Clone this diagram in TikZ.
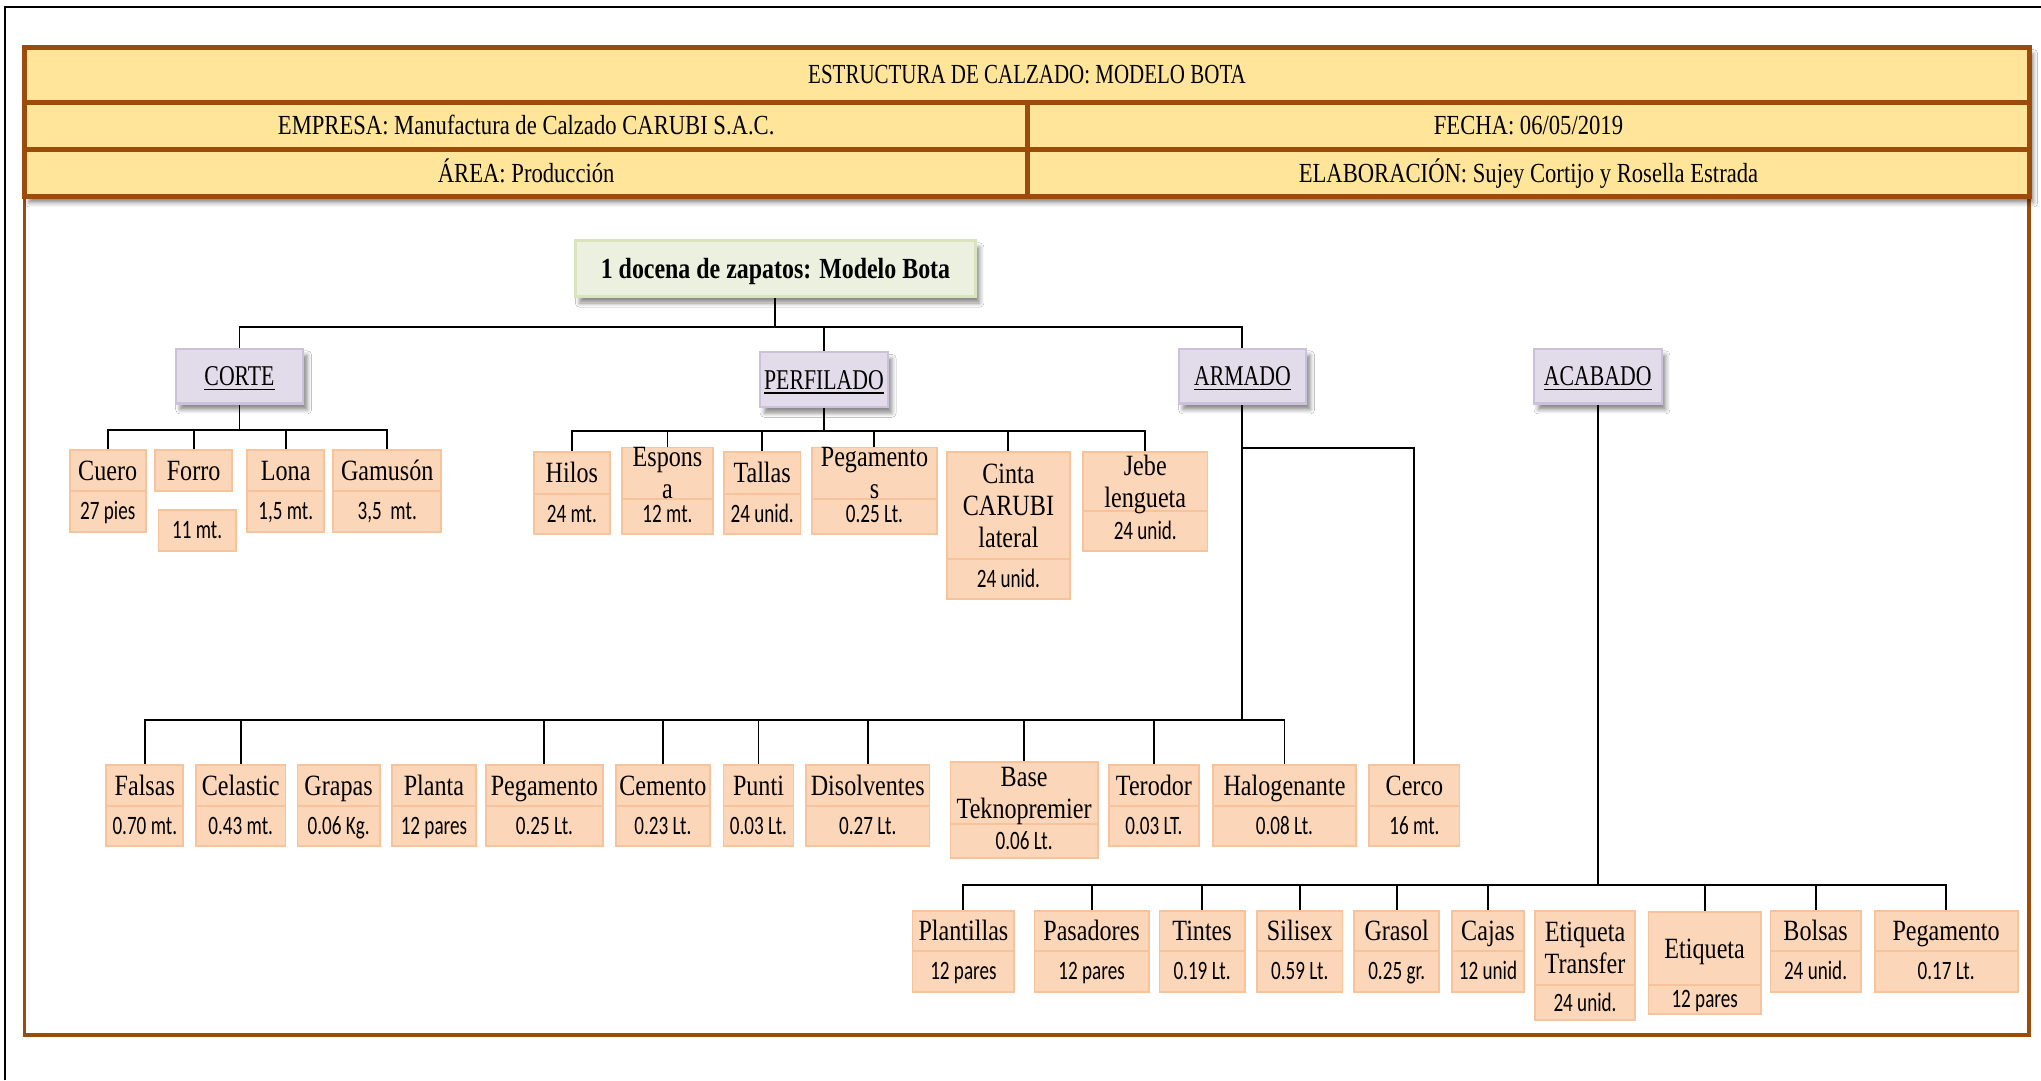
\documentclass[tikz,border=0pt]{standalone}
\usepackage{fontspec}
\setmainfont{Liberation Serif}[FakeStretch=0.82]
\newfontfamily\capsf{Liberation Serif}[FakeStretch=0.76]
\newfontfamily\numf{Carlito}[FakeStretch=0.72]
\usetikzlibrary{backgrounds,shadows.blur}

\definecolor{hdrfill}{HTML}{FFE599}
\definecolor{brown}{RGB}{155,75,10}
\definecolor{leaffill}{HTML}{FBD6B8}
\definecolor{leafline}{HTML}{F8C29A}
\definecolor{rolfill}{HTML}{E2DCEA}
\definecolor{rolline}{HTML}{CCC1DA}
\definecolor{rootfill}{HTML}{EBF1DE}
\definecolor{rootline}{HTML}{D7E4BD}

\tikzset{
  softshadow/.style={blur shadow={shadow xshift=1.6pt, shadow yshift=-2.4pt,
      shadow blur radius=1.6pt, shadow opacity=45}},
  hdrcell/.style={draw=brown, line width=1.9pt, fill=hdrfill, inner sep=0pt,
      font=\fontsize{10.6}{12}\selectfont, text height=9.2pt, text depth=2.2pt},
  leafbase/.style={draw=leafline, fill=leaffill, line width=0.7pt,
      inner sep=0pt, outer sep=0pt, align=center},
  leafone/.style={leafbase, font=\fontsize{11.3}{12.25}\selectfont,
      text height=9.7pt, text depth=2.2pt},
  leafmulti/.style={leafbase, font=\fontsize{11.3}{12.25}\selectfont, text depth=0pt},
  leafqty/.style={leafbase, font=\numf\fontsize{10.2}{12}\selectfont,
      text height=8.7pt, text depth=2.2pt},
  rolebox/.style={draw=rolline, fill=rolfill, line width=0.8pt, inner sep=0pt,
      outer sep=0pt, minimum width=49pt, minimum height=21pt,
      font=\capsf\fontsize{11}{12}\selectfont, text height=9.5pt, text depth=2.2pt,
      softshadow},
  rootbox/.style={draw=rootline, fill=rootfill, line width=1.2pt, inner sep=0pt,
      outer sep=0pt, minimum width=153.75pt, minimum height=21.5pt,
      font=\bfseries\fontsize{11.2}{12}\selectfont, text height=9.6pt, text depth=2.2pt,
      softshadow},
  conn/.style={draw=black, line width=0.75pt},
}

% #1 style of the name cell, #2 node name, #3/#4 left/right x,
% #5 top y, #6 split y, #7 bottom y, #8 name, #9 quantity
% (quantity cell first, so a name that runs over the split stays visible)
\newcommand\leafbox[9][leafone]{%
  \node[leafqty, minimum width={(#4-#3)*0.5pt}, minimum height={(#7-#6)*0.5pt}]
    (#2q) at ({(#3+#4)/2},{(#6+#7)/2}) {#9};
  \node[#1, minimum width={(#4-#3)*0.5pt}, minimum height={(#6-#5)*0.5pt}]
    (#2) at ({(#3+#4)/2},{(#5+#6)/2}) {#8};
}

\begin{document}
\begin{tikzpicture}[x=0.5pt,y=-0.5pt]
\useasboundingbox (0,0) rectangle (1568,830);

% page frame
\draw[line width=0.8pt] (3.8,830) -- (3.8,5.3) -- (1568,5.3);

% outer brown frame below the heading
\draw[brown, line width=1.5pt] (18.8,151) -- (18.8,795.2) -- (1559,795.2) -- (1559,151);

% heading block
\fill[hdrfill, softshadow] (19,36.5) rectangle (1559,151);
\node[hdrcell, minimum width=770pt, minimum height=20.95pt, font=\capsf\fontsize{10.6}{12}\selectfont]
  (title) at (789,57.45) {ESTRUCTURA DE CALZADO: MODELO BOTA};
\node[hdrcell, minimum width=385.25pt, minimum height=18.3pt]
  (empresa) at (404.25,96.7) {EMPRESA: Manufactura de Calzado CARUBI S.A.C.};
\node[hdrcell, minimum width=384.75pt, minimum height=18.3pt]
  (fecha) at (1174.25,96.7) {FECHA: 06/05/2019};
\node[hdrcell, minimum width=385.25pt, minimum height=18pt]
  (area) at (404.25,133) {ÁREA: Producción};
\node[hdrcell, minimum width=384.75pt, minimum height=18pt]
  (elab) at (1174.25,133) {ELABORACIÓN: Sujey Cortijo y Rosella Estrada};

% top of the tree
\node[rootbox] (root) at (595.75,206.5) {1 docena de zapatos: Modelo Bota};
\node[rolebox] (corte) at (184,289) {\underline{CORTE}};
\node[rolebox] (perfilado) at (633,291.6) {\underline{PERFILADO}};
\node[rolebox] (armado) at (954.5,289) {\underline{ARMADO}};
\node[rolebox] (acabado) at (1227.5,289) {\underline{ACABADO}};

% CORTE materials
\leafbox{cuero}{53.5}{112}{345.7}{377}{408.7}{Cuero}{27 pies}
\node[leafone, minimum width=29.75pt, minimum height=15.9pt] (forro) at (148.75,361.6) {Forro};
\node[leafqty, minimum width=29.6pt, minimum height=15.75pt] (forroq) at (151.4,407.55) {11 mt.};
\leafbox{lona}{190}{249}{345.7}{377}{408.7}{Lona}{1,5 mt.}
\leafbox{gamuson}{256}{339}{345.7}{377}{408.7}{Gamusón}{3,5\ \ mt.}

% PERFILADO materials
\leafbox{hilos}{410}{468.6}{347.5}{379.5}{410.2}{Hilos}{24 mt.}
\leafbox[leafmulti]{esponsa}{478}{547.6}{347.5}{379.5}{410.2}{Espons\\a}{12 mt.}
\leafbox{tallas}{556}{615}{347.5}{379.5}{410.2}{Tallas}{24 unid.}
\leafbox[leafmulti]{pegamentos}{624}{719.6}{347.5}{379.5}{410.2}{Pegamento\\s}{0.25 Lt.}
\leafbox[leafmulti]{cinta}{727.5}{822}{347.5}{429.5}{460}{Cinta\\CARUBI\\lateral}{24 unid.}
\leafbox[leafmulti]{jebe}{832}{927.7}{347.5}{392.6}{423}{Jebe\\lengueta}{24 unid.}

% ARMADO materials
\leafbox{falsas}{81.7}{140.8}{587.7}{619}{649.7}{Falsas}{0.70 mt.}
\leafbox{celastic}{150.6}{219.3}{587.7}{619}{649.7}{Celastic}{0.43 mt.}
\leafbox{grapas}{228.6}{291.7}{587.7}{619}{649.7}{Grapas}{0.06 Kg.}
\leafbox{planta}{301}{365.7}{587.7}{619}{649.7}{Planta}{12 pares}
\leafbox{pegamentoa}{373.3}{463.2}{587.7}{619}{649.7}{Pegamento}{0.25 Lt.}
\leafbox{cemento}{473.3}{545.2}{587.7}{619}{649.7}{Cemento}{0.23 Lt.}
\leafbox{punti}{555.8}{609.6}{587.7}{619}{649.7}{Punti}{0.03 Lt.}
\leafbox{disolventes}{619.2}{714.1}{587.7}{619}{649.7}{Disolventes}{0.27 Lt.}
\leafbox[leafmulti]{base}{730.2}{843.4}{585.6}{633.3}{659}{Base\\Teknopremier}{0.06 Lt.}
\leafbox{terodor}{852}{921}{587.7}{619}{649.7}{Terodor}{0.03 LT.}
\leafbox{halogenante}{932}{1041.6}{587.7}{619}{649.7}{Halogenante}{0.08 Lt.}
\leafbox{cerco}{1052}{1121.3}{587.7}{619}{649.7}{Cerco}{16 mt.}

% ACABADO materials
\leafbox{plantillas}{701}{779.3}{699.6}{730.6}{761.8}{Plantillas}{12 pares}
\leafbox{pasadores}{794.7}{882.5}{699.6}{730.6}{761.8}{Pasadores}{12 pares}
\leafbox{tintes}{890.8}{956.2}{699.6}{730.6}{761.8}{Tintes}{0.19 Lt.}
\leafbox{silisex}{965.8}{1031.3}{699.6}{730.6}{761.8}{Silisex}{0.59 Lt.}
\leafbox{grasol}{1040.2}{1105.8}{699.6}{730.6}{761.8}{Grasol}{0.25 gr.}
\leafbox{cajas}{1115.7}{1170.6}{699.6}{730.6}{761.8}{Cajas}{12 unid}
\leafbox[leafmulti]{transfer}{1179.4}{1256}{699.6}{756.8}{783.6}{Etiqueta\\Transfer}{24 unid.}
\leafbox{etiqueta}{1266.4}{1352.8}{700.4}{756.8}{778.7}{Etiqueta}{12 pares}
\leafbox{bolsas}{1360.2}{1429.4}{699.6}{730.6}{761.8}{Bolsas}{24 unid.}
\leafbox{pegamentok}{1440.2}{1550}{699.6}{730.6}{761.8}{Pegamento}{0.17 Lt.}

\begin{pgfonlayer}{background}
  \fill[white] (0,0) rectangle (1568,830);
  % bus levels
  \coordinate (bus0) at (0,251);
  \coordinate (busc) at (0,330);
  \coordinate (busp) at (0,331);
  \coordinate (busr) at (0,344.3);
  \coordinate (busa) at (0,553);
  \coordinate (busk) at (0,680);

  % root to the four stages
  \draw[conn] (root.south) -- (root.south |- bus0);
  \draw[conn] (corte.north) -- (corte.north |- bus0) -- (armado.north |- bus0) -- (armado.north);
  \draw[conn] (perfilado.north) -- (perfilado.north |- bus0);

  % CORTE
  \draw[conn] (corte.south) -- (corte.south |- busc);
  \draw[conn] (cuero.north) -- (cuero.north |- busc) -- (gamuson.north |- busc) -- (gamuson.north);
  \foreach \n in {forro,lona} \draw[conn] (\n.north) -- (\n.north |- busc);

  % PERFILADO
  \draw[conn] (perfilado.south) -- (perfilado.south |- busp);
  \draw[conn] (hilos.north) -- (hilos.north |- busp) -- (jebe.north |- busp) -- (jebe.north);
  \foreach \n in {esponsa,tallas,pegamentos,cinta} \draw[conn] (\n.north) -- (\n.north |- busp);

  % ARMADO
  \draw[conn] (armado.south) -- (armado.south |- busa);
  \draw[conn] (armado.south |- busr) -- (cerco.north |- busr) -- (cerco.north);
  \draw[conn] (falsas.north) -- (falsas.north |- busa) -- (halogenante.north |- busa) -- (halogenante.north);
  \foreach \n in {celastic,pegamentoa,cemento,punti,disolventes,base,terodor}
    \draw[conn] (\n.north) -- (\n.north |- busa);

  % ACABADO
  \draw[conn] (acabado.south) -- (acabado.south |- busk);
  \draw[conn] (plantillas.north) -- (plantillas.north |- busk) -- (pegamentok.north |- busk) -- (pegamentok.north);
  \foreach \n in {pasadores,tintes,silisex,grasol,cajas,etiqueta,bolsas}
    \draw[conn] (\n.north) -- (\n.north |- busk);
\end{pgfonlayer}
\end{tikzpicture}
\end{document}
